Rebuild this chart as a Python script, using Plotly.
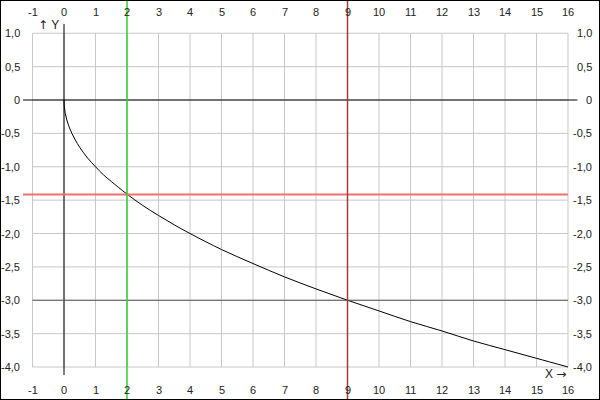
import plotly.graph_objects as go

# ---- data ----
x_ticks = list(range(-1, 17))
x_tick_labels = [str(v) for v in x_ticks]
y_ticks = [1.0, 0.5, 0, -0.5, -1.0, -1.5, -2.0, -2.5, -3.0, -3.5, -4.0]
y_tick_labels = ["1,0", "0,5", "0", "-0,5", "-1,0", "-1,5", "-2,0", "-2,5", "-3,0", "-3,5", "-4,0"]

curve_x = [0, 0.01, 0.04, 0.09, 0.16, 0.25, 0.36, 0.5, 0.75, 1, 1.25, 1.5, 2, 2.5, 3, 3.5, 4, 5, 6, 7, 8, 9,
           10, 11, 12, 13, 14, 15, 16]
curve_y = [0, -0.1, -0.2, -0.3, -0.4, -0.5, -0.6, -0.71, -0.87, -1.0, -1.12, -1.22, -1.41, -1.58, -1.73, -1.87,
           -2.0, -2.24, -2.45, -2.65, -2.83, -3.0, -3.16, -3.32, -3.46, -3.61, -3.74, -3.87, -4.0]

v_green = 2
v_darkred = 9
h_red = -1.414
h_dark = -3.0

FONT = "Liberation Sans, Arial, sans-serif"
X_RANGE = [-64 / 31.5, 536 / 31.5]
Y_RANGE = [-300 / 66.75, 100 / 66.75]

fig = go.Figure()

shapes = []
grid_col = "#c8c8c8"
for xv in x_ticks:
    shapes.append(dict(type="line", xref="x", yref="y", x0=xv, x1=xv, y0=-4, y1=1,
                       line=dict(color=grid_col, width=1), layer="below"))
for yv in y_ticks:
    shapes.append(dict(type="line", xref="x", yref="y", x0=-1, x1=16, y0=yv, y1=yv,
                       line=dict(color=grid_col, width=1), layer="below"))

# axes
shapes.append(dict(type="line", xref="x", yref="y", x0=-1.3, x1=16.3, y0=0, y1=0,
                   line=dict(color="black", width=1)))
shapes.append(dict(type="line", xref="x", yref="y", x0=0, x1=0, y0=1.14, y1=-4.12,
                   line=dict(color="black", width=1)))
# helper lines
shapes.append(dict(type="line", xref="x", yref="y", x0=-1.3, x1=16, y0=h_red, y1=h_red,
                   line=dict(color="#f07070", width=2)))
shapes.append(dict(type="line", xref="x", yref="y", x0=-1, x1=16, y0=h_dark, y1=h_dark,
                   line=dict(color="#555555", width=1)))
shapes.append(dict(type="line", xref="x", yref="paper", x0=v_green, x1=v_green, y0=0, y1=1,
                   line=dict(color="#33cc33", width=1.5)))
shapes.append(dict(type="line", xref="x", yref="paper", x0=v_darkred, x1=v_darkred, y0=0, y1=1,
                   line=dict(color="#a03c3c", width=1.5)))
# frame
shapes.append(dict(type="rect", xref="paper", yref="paper", x0=0, x1=1, y0=0, y1=1,
                   line=dict(color="black", width=2)))

fig.add_trace(go.Scatter(x=curve_x, y=curve_y, mode="lines", line=dict(color="black", width=1, shape="spline"),
                         hoverinfo="skip", showlegend=False))

ann = []
for xv, lab in zip(x_ticks, x_tick_labels):
    ann.append(dict(x=xv, y=1 - 12 / 400, xref="x", yref="paper", text=lab, showarrow=False,
                    xanchor="center", yanchor="middle", font=dict(size=11, color="#222")))
    ann.append(dict(x=xv, y=1 - 390 / 400, xref="x", yref="paper", text=lab, showarrow=False,
                    xanchor="center", yanchor="middle", font=dict(size=11, color="#222")))
for yv, lab in zip(y_ticks, y_tick_labels):
    ann.append(dict(x=22 / 600, y=yv, xref="paper", yref="y", text=lab, showarrow=False,
                    xanchor="right", yanchor="middle", font=dict(size=11, color="#222")))
    ann.append(dict(x=594 / 600, y=yv, xref="paper", yref="y", text=lab, showarrow=False,
                    xanchor="right", yanchor="middle", font=dict(size=11, color="#222")))
ARROW = "<span style='font-family:DejaVu Sans'>%s</span>"
ann.append(dict(x=-0.9, y=1 - 25 / 400, xref="x", yref="paper", text=(ARROW % "↑") + " Y", showarrow=False,
                xanchor="left", yanchor="middle", font=dict(size=12, color="#222")))
ann.append(dict(x=16, y=1 - 374 / 400, xref="x", yref="paper", text="X " + (ARROW % "→"), showarrow=False,
                xanchor="right", yanchor="middle", font=dict(size=12, color="#222")))

fig.update_layout(
    width=600, height=400,
    margin=dict(l=0, r=0, t=0, b=0),
    paper_bgcolor="white", plot_bgcolor="white",
    font=dict(family=FONT, size=11, color="#222"),
    xaxis=dict(range=X_RANGE, visible=False, fixedrange=True),
    yaxis=dict(range=Y_RANGE, visible=False, fixedrange=True),
    shapes=shapes, annotations=ann, showlegend=False,
)

fig.write_html("out.html", config={"displayModeBar": False},
               post_script="document.body.style.margin='0';document.body.style.overflow='hidden';")
